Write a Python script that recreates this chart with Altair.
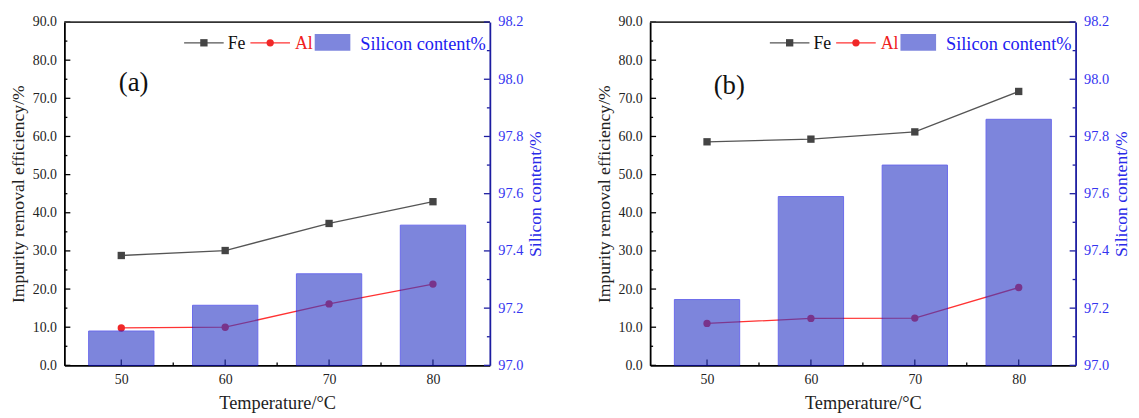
import altair as alt
import pandas as pd

# ---- data ----
temps = [50, 60, 70, 80]
fe_a = [28.8, 30.1, 37.2, 42.9]
al_a = [9.8, 10.0, 16.1, 21.3]
si_a = [97.12, 97.21, 97.32, 97.49]
fe_b = [58.6, 59.3, 61.2, 71.8]
al_b = [11.0, 12.3, 12.4, 20.4]
si_b = [97.23, 97.59, 97.70, 97.86]

left_ticks = [0, 10, 20, 30, 40, 50, 60, 70, 80, 90]
left_minor = [5, 15, 25, 35, 45, 55, 65, 75, 85]
right_ticks = [97.0, 97.2, 97.4, 97.6, 97.8, 98.0, 98.2]
right_minor = [97.1, 97.3, 97.5, 97.7, 97.9, 98.1]
x_ticks = [50, 60, 70, 80]
x_minor = [55, 65, 75]
legend_labels = ["Fe", "Al", "Silicon content%"]
panel_labels = ["(a)", "(b)"]

FONT = "Liberation Serif"
W, H = 430, 347
BAR_COLOR = "#2F3CC8"
BAR_OPACITY = 0.62
DARK_BLUE = "#1C1CA0"
one = pd.DataFrame({"k": [0]})

X_AXIS = alt.Axis(values=x_ticks, format="d", title="Temperature/°C", ticks=False,
                  domainColor="#000000", domainWidth=1.8, grid=False, labelFlush=False,
                  labelFont=FONT, labelFontSize=14, labelColor="#222222", labelPadding=7,
                  titleFont=FONT, titleFontSize=18.5, titleFontWeight="normal",
                  titleColor="#222222", titlePadding=8)
LEFT_AXIS = alt.Axis(values=left_ticks, format=".1f", title="Impurity removal efficiency/%",
                     ticks=False, domainColor="#000000", domainWidth=1.8, grid=False,
                     labelFlush=False, labelFont=FONT, labelFontSize=14, labelColor="#222222",
                     labelPadding=8, titleFont=FONT, titleFontSize=17.8, titleFontWeight="normal",
                     titleColor="#222222", titlePadding=5)
RIGHT_AXIS = alt.Axis(orient="right", values=right_ticks, format=".1f", title="Silicon content/%",
                      titleAngle=270, titleBaseline="top", ticks=False, domainColor=DARK_BLUE,
                      domainWidth=1.8, grid=False, labelFlush=False, labelFont=FONT,
                      labelFontSize=14.5, labelColor="#3434F0", labelPadding=8, titleFont=FONT,
                      titleFontSize=17.8, titleFontWeight="normal", titleColor="#2A2AE8",
                      titlePadding=4)
X_SCALE = alt.Scale(domain=[45, 85], nice=False, zero=False)
YL_SCALE = alt.Scale(domain=[0, 90], nice=False, zero=False)
YR_SCALE = alt.Scale(domain=[97, 98.2], nice=False, zero=False)


def panel(fe, al, si, tag, tag_x, tag_y):
    df = pd.DataFrame({"T": temps, "Fe": fe, "Al": al, "Si": si})
    base = alt.Chart(df)
    xq = alt.X("T:Q", scale=X_SCALE, axis=X_AXIS)

    fe_line = base.mark_line(color="#555555", strokeWidth=1.3).encode(
        x=xq, y=alt.Y("Fe:Q", scale=YL_SCALE, axis=LEFT_AXIS))
    fe_pts = base.mark_point(shape="square", filled=True, size=55, color="#444444", opacity=1).encode(
        x=xq, y=alt.Y("Fe:Q", scale=YL_SCALE, axis=LEFT_AXIS))
    al_line = base.mark_line(color="#FF3333", strokeWidth=1.3).encode(
        x=xq, y=alt.Y("Al:Q", scale=YL_SCALE, axis=LEFT_AXIS))
    al_pts = base.mark_point(shape="circle", filled=True, size=55, color="#F02828", opacity=1).encode(
        x=xq, y=alt.Y("Al:Q", scale=YL_SCALE, axis=LEFT_AXIS))

    lt_major = alt.Chart(pd.DataFrame({"v": left_ticks})).mark_rule(color="#000000", strokeWidth=1.3).encode(
        y=alt.Y("v:Q", scale=YL_SCALE, axis=LEFT_AXIS), x=alt.value(0), x2=alt.value(6))
    lt_minor = alt.Chart(pd.DataFrame({"v": left_minor})).mark_rule(color="#000000", strokeWidth=1.3).encode(
        y=alt.Y("v:Q", scale=YL_SCALE, axis=LEFT_AXIS), x=alt.value(0), x2=alt.value(3))
    xt_major = alt.Chart(pd.DataFrame({"T": x_ticks})).mark_rule(color="#000000", strokeWidth=1.3).encode(
        x=xq, y=alt.value(H), y2=alt.value(H - 6))
    xt_minor = alt.Chart(pd.DataFrame({"T": x_minor})).mark_rule(color="#000000", strokeWidth=1.3).encode(
        x=xq, y=alt.value(H), y2=alt.value(H - 3))
    top_border = alt.Chart(one).mark_rule(color="#333333", strokeWidth=1.8).encode(
        x=alt.value(0), x2=alt.value(W), y=alt.value(0))

    left_group = alt.layer(fe_line, fe_pts, al_line, al_pts, lt_major, lt_minor,
                           xt_major, xt_minor, top_border)

    bars = base.mark_bar(size=66, color=BAR_COLOR, opacity=BAR_OPACITY, stroke="#1010E0",
                         strokeWidth=1).encode(
        x=xq,
        y=alt.Y("Si:Q", scale=YR_SCALE, axis=RIGHT_AXIS),
        y2=alt.datum(97))
    rt_major = alt.Chart(pd.DataFrame({"v": right_ticks})).mark_rule(color=DARK_BLUE, strokeWidth=1.3).encode(
        y=alt.Y("v:Q", scale=YR_SCALE, axis=RIGHT_AXIS), x=alt.value(W), x2=alt.value(W - 6))
    rt_minor = alt.Chart(pd.DataFrame({"v": right_minor})).mark_rule(color=DARK_BLUE, strokeWidth=1.3).encode(
        y=alt.Y("v:Q", scale=YR_SCALE, axis=RIGHT_AXIS), x=alt.value(W), x2=alt.value(W - 3))

    # legend drawn inside the plot
    lg = alt.Chart(one)
    leg = [
        lg.mark_rule(color="#555555", strokeWidth=1.3).encode(x=alt.value(121), x2=alt.value(161), y=alt.value(21)),
        lg.mark_point(shape="square", filled=True, size=55, color="#444444", opacity=1).encode(
            x=alt.value(141), y=alt.value(21)),
        lg.mark_text(align="left", baseline="middle", font=FONT, fontSize=18, color="#111111").encode(
            x=alt.value(165), y=alt.value(22), text=alt.value(legend_labels[0])),
        lg.mark_rule(color="#FF3333", strokeWidth=1.3).encode(x=alt.value(188), x2=alt.value(228), y=alt.value(21)),
        lg.mark_point(shape="circle", filled=True, size=55, color="#F02828", opacity=1).encode(
            x=alt.value(208), y=alt.value(21)),
        lg.mark_text(align="left", baseline="middle", font=FONT, fontSize=18, color="#F02020").encode(
            x=alt.value(233), y=alt.value(22), text=alt.value(legend_labels[1])),
        lg.mark_rect(color=BAR_COLOR, opacity=BAR_OPACITY).encode(
            x=alt.value(253), x2=alt.value(289), y=alt.value(12), y2=alt.value(29)),
        lg.mark_text(align="left", baseline="middle", font=FONT, fontSize=18.5, color="#2020F0").encode(
            x=alt.value(299), y=alt.value(22), text=alt.value(legend_labels[2])),
        lg.mark_text(align="center", baseline="middle", font=FONT, fontSize=27, color="#111111").encode(
            x=alt.value(tag_x), y=alt.value(tag_y), text=alt.value(tag)),
    ]

    right_group = alt.layer(bars, rt_major, rt_minor, *leg)
    return alt.layer(left_group, right_group).resolve_scale(y="independent").properties(width=W, height=H)


pa = panel(fe_a, al_a, si_a, panel_labels[0], 70, 62)
pb = panel(fe_b, al_b, si_b, panel_labels[1], 80, 65)

chart = alt.hconcat(pa, pb, spacing=50).properties(
    padding={"left": 1, "top": 4, "right": 0, "bottom": 0}
).configure_view(stroke=None)

chart.save("out.html", embed_options={"renderer": "svg", "actions": False})
